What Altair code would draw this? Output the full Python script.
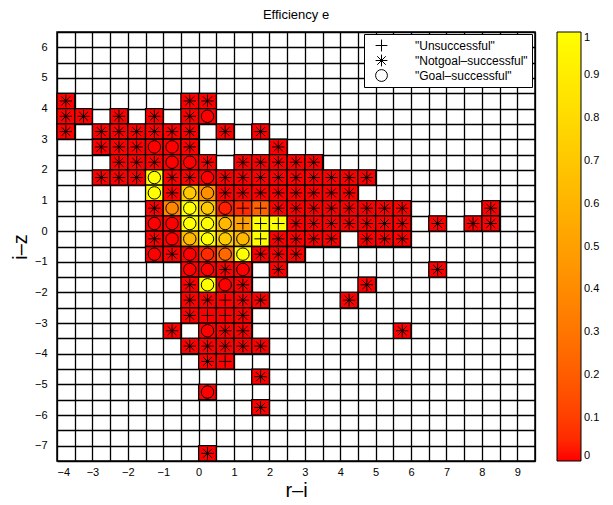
import altair as alt
import pandas as pd

# ---- data -------------------------------------------------------------
# each row: y (cell centre) -> list of (x cell centre, outcome, efficiency)
# outcome: U = "Unsuccessful", N = "Notgoal-successful", G = "Goal-successful"
row_4_25 = [(-3.75, "N", 0), (-0.25, "N", 0), (0.25, "N", 0)]
row_3_75 = [(-3.75, "N", 0), (-3.25, "N", 0), (-2.25, "N", 0), (-1.25, "N", 0),
            (-0.25, "N", 0), (0.25, "G", 0)]
row_3_25 = [(-3.75, "N", 0), (-2.75, "N", 0), (-2.25, "N", 0), (-1.75, "N", 0),
            (-1.25, "N", 0), (-0.75, "N", 0), (-0.25, "N", 0), (0.75, "N", 0),
            (1.75, "N", 0)]
row_2_75 = [(-2.75, "N", 0), (-2.25, "N", 0), (-1.75, "N", 0), (-1.25, "G", 0),
            (-0.75, "G", 0), (-0.25, "N", 0), (2.25, "N", 0)]
row_2_25 = [(-2.25, "N", 0), (-1.75, "N", 0), (-1.25, "N", 0), (-0.75, "G", 0),
            (-0.25, "G", 0), (0.25, "N", 0), (1.25, "N", 0), (1.75, "N", 0),
            (2.25, "N", 0), (2.75, "N", 0), (3.25, "N", 0)]
row_1_75 = [(-2.75, "N", 0), (-2.25, "N", 0), (-1.75, "N", 0), (-1.25, "G", 1.0),
            (-0.75, "N", 0), (-0.25, "N", 0), (0.25, "G", 0), (0.75, "N", 0),
            (1.25, "N", 0), (1.75, "N", 0), (2.25, "N", 0), (2.75, "N", 0),
            (3.25, "N", 0), (3.75, "N", 0), (4.25, "N", 0), (4.75, "N", 0)]
row_1_25 = [(-1.25, "G", 1.0), (-0.75, "N", 0), (-0.25, "G", 0.7), (0.25, "G", 0.42),
            (0.75, "N", 0), (1.25, "N", 0), (1.75, "N", 0), (2.25, "N", 0),
            (2.75, "N", 0), (3.25, "N", 0), (3.75, "N", 0), (4.25, "N", 0)]
row_0_75 = [(-1.25, "N", 0), (-0.75, "G", 0.38), (-0.25, "G", 1.0), (0.25, "G", 0.7),
            (0.75, "G", 0.03), (1.25, "U", 0.05), (1.75, "U", 0.22), (2.25, "N", 0),
            (2.75, "N", 0), (3.25, "N", 0), (3.75, "N", 0), (4.25, "N", 0),
            (4.75, "N", 0), (5.25, "N", 0), (5.75, "N", 0), (8.25, "N", 0)]
row_0_25 = [(-1.25, "G", 0), (-0.75, "G", 0), (-0.25, "G", 1.0), (0.25, "G", 1.0),
            (0.75, "G", 0.62), (1.25, "U", 0.5), (1.75, "U", 1.0), (2.25, "U", 1.0),
            (2.75, "N", 0), (3.25, "N", 0), (3.75, "N", 0), (4.25, "N", 0),
            (4.75, "N", 0), (5.25, "N", 0), (5.75, "N", 0), (6.75, "N", 0),
            (7.75, "N", 0), (8.25, "N", 0)]
row_m0_25 = [(-1.25, "N", 0), (-0.75, "G", 0), (-0.25, "G", 0.62), (0.25, "G", 1.0),
             (0.75, "G", 0.72), (1.25, "G", 0.62), (1.75, "U", 1.0), (2.25, "N", 0),
             (2.75, "N", 0), (3.25, "N", 0), (3.75, "N", 0), (4.75, "N", 0),
             (5.25, "N", 0), (5.75, "N", 0)]
row_m0_75 = [(-1.25, "G", 0), (-0.75, "N", 0), (-0.25, "G", 0), (0.25, "G", 0.05),
             (0.75, "G", 0.25), (1.25, "G", 1.0), (1.75, "N", 0), (2.25, "N", 0),
             (2.75, "N", 0)]
row_m1_25 = [(-0.25, "G", 0), (0.25, "G", 0), (0.75, "N", 0), (1.25, "G", 0),
             (2.25, "N", 0), (6.75, "N", 0)]
row_m1_75 = [(-0.25, "N", 0), (0.25, "G", 1.0), (0.75, "G", 0), (1.25, "N", 0),
             (4.75, "N", 0)]
row_m2_25 = [(-0.25, "N", 0), (0.25, "N", 0), (0.75, "U", 0), (1.25, "N", 0),
             (1.75, "N", 0), (4.25, "N", 0)]
row_m2_75 = [(-0.25, "N", 0), (0.25, "U", 0), (0.75, "U", 0), (1.25, "N", 0)]
row_m3_25 = [(-0.75, "N", 0), (0.25, "G", 0), (0.75, "N", 0), (1.25, "N", 0),
             (5.75, "N", 0)]
row_m3_75 = [(-0.25, "N", 0), (0.25, "N", 0), (0.75, "N", 0), (1.25, "N", 0),
             (1.75, "N", 0)]
row_m4_25 = [(0.25, "N", 0), (0.75, "U", 0)]
row_m4_75 = [(1.75, "N", 0)]
row_m5_25 = [(0.25, "G", 0)]
row_m5_75 = [(1.75, "N", 0)]
row_m7_25 = [(0.25, "N", 0)]

rows = [
    (4.25, row_4_25), (3.75, row_3_75), (3.25, row_3_25), (2.75, row_2_75),
    (2.25, row_2_25), (1.75, row_1_75), (1.25, row_1_25), (0.75, row_0_75),
    (0.25, row_0_25), (-0.25, row_m0_25), (-0.75, row_m0_75), (-1.25, row_m1_25),
    (-1.75, row_m1_75), (-2.25, row_m2_25), (-2.75, row_m2_75), (-3.25, row_m3_25),
    (-3.75, row_m3_75), (-4.25, row_m4_25), (-4.75, row_m4_75), (-5.25, row_m5_25),
    (-5.75, row_m5_75), (-7.25, row_m7_25),
]

outcome_names = {"U": "Unsuccessful", "N": "Notgoal\u2013successful", "G": "Goal\u2013successful"}
outcome_order = ["Unsuccessful", "Notgoal\u2013successful", "Goal\u2013successful"]

records = []
for yc, cells in rows:
    for xc, kind, eff in cells:
        records.append({"x": xc, "y": yc, "outcome": outcome_names[kind], "eff": eff})
df = pd.DataFrame(records)

x_min, x_max = -4, 9.5
y_min, y_max = -7.5, 6.5
half = 0.5
x_grid = [x_min + half * i for i in range(int((x_max - x_min) / half) + 1)]
y_grid = [y_min + half * i for i in range(int((y_max - y_min) / half) + 1)]
cbar_values = [round(0.1 * i, 1) for i in range(11)]

FONT = "Liberation Sans"
PLUS = "M-1,0L1,0M0,-1L0,1"
STAR = "M-1,0L1,0M0,-1L0,1M-0.72,-0.72L0.72,0.72M-0.72,0.72L0.72,-0.72"

label_expr = "datum.value % 1 == 0 ? format(datum.value, 'd') : ''"

xs = alt.Scale(domain=[x_min, x_max], nice=False, zero=False)
ys = alt.Scale(domain=[y_min, y_max], nice=False, zero=False)
x_axis = alt.Axis(values=x_grid, labelExpr=label_expr, labelOverlap=False)
y_axis = alt.Axis(values=y_grid, labelExpr=label_expr, labelOverlap=False)

base = alt.Chart(df).transform_calculate(
    x0="datum.x - 0.25", x1="datum.x + 0.25",
    y0="datum.y - 0.25", y1="datum.y + 0.25",
)

cells = base.mark_rect(stroke="black", strokeWidth=1.3).encode(
    x=alt.X("x0:Q", scale=xs, title="r\u2013i", axis=x_axis),
    x2="x1:Q",
    y=alt.Y("y0:Q", scale=ys, title="i\u2013z", axis=y_axis),
    y2="y1:Q",
    color=alt.Color(
        "eff:Q",
        scale=alt.Scale(domain=[0, 1], range=["#ff0000", "#ffff00"]),
        legend=alt.Legend(
            orient="none", legendX=500, legendY=0, title=None,
            direction="vertical", gradientLength=429, gradientThickness=24,
            gradientStrokeColor="black", gradientStrokeWidth=1,
            values=cbar_values, labelFontSize=11, labelOffset=3,
            labelFont=FONT, labelColor="black",
            labelExpr="format(datum.value, '~g')",
        ),
    ),
)

points = base.mark_point(filled=False, color="black", strokeWidth=1, size=155,
                         opacity=1).encode(
    x=alt.X("x:Q", scale=xs, title="r\u2013i", axis=x_axis),
    y=alt.Y("y:Q", scale=ys, title="i\u2013z", axis=y_axis),
    shape=alt.Shape(
        "outcome:N",
        scale=alt.Scale(domain=outcome_order, range=[PLUS, STAR, "circle"]),
        legend=alt.Legend(
            orient="none", legendX=307, legendY=2, title=None,
            fillColor="white", strokeColor="black", padding=4,
            symbolOffset=7, labelOffset=27, rowPadding=0, clipHeight=15,
            symbolSize=140, symbolStrokeWidth=1, symbolStrokeColor="black",
            symbolFillColor="transparent",
            labelFontSize=12, labelFont=FONT, labelColor="black",
            labelExpr="'\"' + datum.label + '\"'",
        ),
    ),
)

chart = alt.layer(cells, points).properties(
    width=478, height=429,
    title=alt.Title("Efficiency e", fontSize=13, fontWeight="normal", font=FONT,
                    color="black", offset=4),
    padding={"left": 49, "top": 24, "right": 70, "bottom": 40},
    autosize=alt.AutoSizeParams(type="none"),
).configure_view(
    stroke="black", strokeWidth=1.5,
).configure_axis(
    domain=False, ticks=False, tickSize=0,
    grid=True, gridColor="black", gridWidth=1.3, gridOpacity=1,
    labelFont=FONT, labelFontSize=11, labelColor="black",
    titleFont=FONT, titleFontSize=20, titleFontWeight="normal", titleColor="black",
).configure_axisX(
    labelPadding=5, titlePadding=3,
).configure_axisY(
    labelPadding=10, titlePadding=4,
)

chart.save("out.html", embed_options={"renderer": "svg", "actions": False})
